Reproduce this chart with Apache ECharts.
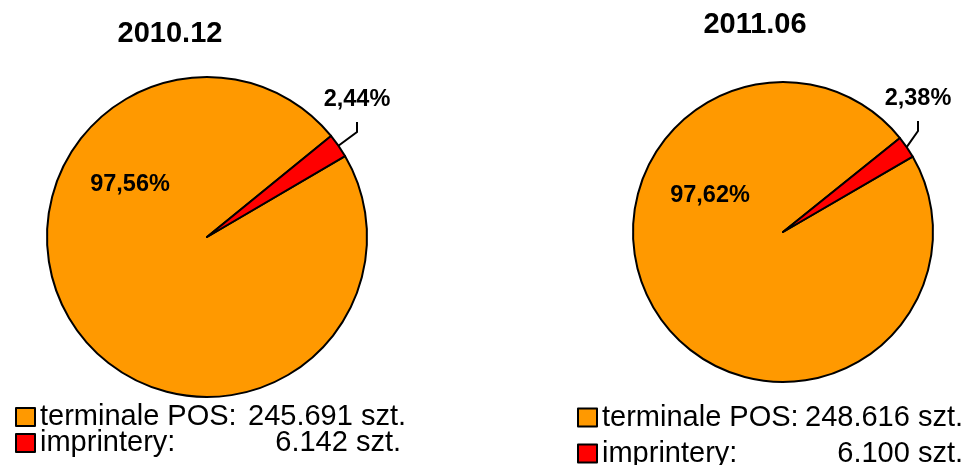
<!DOCTYPE html>
<html>
<head>
<meta charset="utf-8">
<script src="https://cdn.jsdelivr.net/npm/echarts@6/dist/echarts.min.js"></script>
<style>
  html, body { margin: 0; padding: 0; background: #fff; }
  #chart { width: 970px; height: 465px; }
</style>
</head>
<body>
<div id="chart"></div>
<script>
// Device counts and percentage shares for the two reporting dates
const categories = ['terminale POS', 'imprintery'];
const periods = ['2010.12', '2011.06'];
const share2010 = [97.56, 2.44];
const share2011 = [97.62, 2.38];
const units2010 = [245691, 6142];
const units2011 = [248616, 6100];

const FONT = "'Liberation Sans', Arial, sans-serif";
const COLORS = ['#FF9900', '#FF0000'];

const shares = [share2010, share2011];
const units = [units2010, units2011];

// Pie geometry and label anchor spots (px)
const pieCenters = [[207, 237], [783, 232]];
const pieRadii = [160, 150];
const startAngles = [30.4, 30.2];
const labelSpots = [
  [{ x: 130, y: 185 }, { x: 357, y: 122 }],
  [{ x: 710, y: 196 }, { x: 918, y: 121 }]
];

const pct = v => v.toFixed(2).replace('.', ',') + '%';
const thousands = n => String(n).replace(/\B(?=(\d{3})+(?!\d))/g, '.');

function pieSeries(i) {
  return {
    type: 'pie',
    center: pieCenters[i],
    radius: pieRadii[i],
    startAngle: startAngles[i],
    clockwise: true,
    avoidLabelOverlap: false,
    silent: true,
    animation: false,
    itemStyle: { borderColor: '#000', borderWidth: 2 },
    label: {
      show: true,
      position: 'outside',
      formatter: p => pct(p.value),
      fontFamily: FONT,
      fontSize: 23.5,
      fontWeight: 'bold',
      color: '#000',
      lineHeight: 24
    },
    labelLine: {
      show: true,
      length: 25,
      length2: 10,
      smooth: false,
      lineStyle: { color: '#000', width: 2 }
    },
    labelLayout: p => {
      const s = labelSpots[p.seriesIndex][p.dataIndex];
      return {
        x: s.x,
        y: s.y,
        align: 'center',
        verticalAlign: p.dataIndex === 0 ? 'middle' : 'bottom'
      };
    },
    emphasis: { disabled: true },
    data: categories.map((name, k) => ({
      name: name,
      value: shares[i][k],
      itemStyle: { color: COLORS[k] },
      labelLine: { show: k !== 0 },
      label: k === 0 ? {} : { padding: [0, 0, 10, 0], backgroundColor: 'rgba(0,0,0,0)' }
    }))
  };
}

const legendLeft = [15, 577];
const legendTop = [402.5, 403];
const legendGap = [-3, 7];
const valueWidths = [[166, 161], [161, 161]];

function legendFor(i) {
  const base = { fontFamily: FONT, fontSize: 29, color: '#000', lineHeight: 18 };
  return {
    type: 'plain',
    orient: 'vertical',
    left: legendLeft[i],
    top: legendTop[i],
    width: 390,
    height: 300,
    padding: 0,
    itemWidth: 19,
    itemHeight: 18,
    itemGap: legendGap[i],
    icon: 'rect',
    selectedMode: false,
    data: categories,
    itemStyle: { borderColor: '#000', borderWidth: 2 },
    formatter: name => {
      const k = categories.indexOf(name);
      return '{n|' + name + ':}{' + (k === 0 ? 'a' : 'b') + '|' + thousands(units[i][k]) + ' szt.}';
    },
    textStyle: {
      ...base,
      rich: {
        n: { ...base, width: 200 },
        a: { ...base, width: valueWidths[i][0], align: 'right' },
        b: { ...base, width: valueWidths[i][1], align: 'right' }
      }
    }
  };
}

const chart = echarts.init(document.getElementById('chart'), null, { renderer: 'canvas' });
chart.setOption({
  backgroundColor: '#fff',
  animation: false,
  title: [
    { text: periods[0], left: 170, top: 19, textAlign: 'center', padding: 0,
      textStyle: { fontFamily: FONT, fontSize: 29, fontWeight: 'bold', color: '#000' } },
    { text: periods[1], left: 755, top: 10, textAlign: 'center', padding: 0,
      textStyle: { fontFamily: FONT, fontSize: 29, fontWeight: 'bold', color: '#000' } }
  ],
  legend: [legendFor(0), legendFor(1)],
  series: [pieSeries(0), pieSeries(1)]
});
</script>
</body>
</html>
